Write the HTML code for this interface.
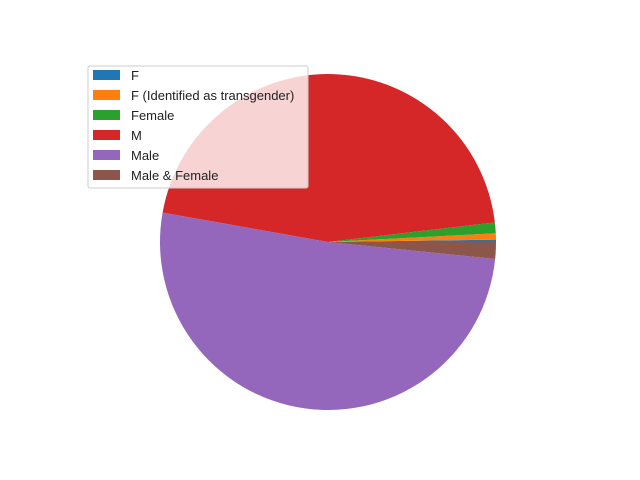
<!DOCTYPE html>
<html><head><meta charset="utf-8"><style>
html,body{margin:0;padding:0;background:#fff;}
svg{display:block;font-family:"Liberation Sans","DejaVu Sans",sans-serif;}
</style></head><body>
<svg id="chart" width="640" height="480" viewBox="0 0 640 480" xmlns="http://www.w3.org/2000/svg">
<rect width="640" height="480" fill="#fff"/>
<g id="pie"></g>
<g id="legend"></g>
</svg>
<script>
const categories = ["F", "F (Identified as transgender)", "Female", "M", "Male", "Male & Female"];
const values = [8, 22, 37, 1632, 1842, 58];
const colors = ["#1f77b4", "#ff7f0e", "#2ca02c", "#d62728", "#9467bd", "#8c564b"];
const NS = "http://www.w3.org/2000/svg";
const cx = 328, cy = 242, r = 168;
const pie = document.getElementById('pie');
const total = values.reduce((a, b) => a + b, 0);
let a0 = 0;
values.forEach((v, i) => {
  const a1 = a0 + v / total * 2 * Math.PI;
  const x0 = cx + r * Math.cos(a0), y0 = cy - r * Math.sin(a0);
  const x1 = cx + r * Math.cos(a1), y1 = cy - r * Math.sin(a1);
  const large = (a1 - a0) > Math.PI ? 1 : 0;
  const p = document.createElementNS(NS, 'path');
  p.setAttribute('d', `M${cx},${cy} L${x0},${y0} A${r},${r} 0 ${large} 0 ${x1},${y1} Z`);
  p.setAttribute('fill', colors[i]);
  
  
  pie.appendChild(p);
  a0 = a1;
});
const lg = document.getElementById('legend');
const box = document.createElementNS(NS, 'rect');
box.setAttribute('x', 88); box.setAttribute('y', 66);
box.setAttribute('width', 220); box.setAttribute('height', 122);
box.setAttribute('rx', 2);
box.setAttribute('fill', 'rgba(255,255,255,0.8)');
box.setAttribute('stroke', '#cccccc');


lg.appendChild(box);
categories.forEach((c, i) => {
  const y = 75 + i * 20;
  const pr = document.createElementNS(NS, 'rect');
  pr.setAttribute('x', 93); pr.setAttribute('y', y - 5);
  pr.setAttribute('width', 27); pr.setAttribute('height', 10);
  pr.setAttribute('fill', colors[i]);
  
  
  lg.appendChild(pr);
  const t = document.createElementNS(NS, 'text');
  t.setAttribute('x', 131); t.setAttribute('y', y + 5);
  t.setAttribute('font-size', '13');
  t.setAttribute('fill', '#222');
  t.textContent = c;
  
  
  lg.appendChild(t);
});
</script>
</body></html>
